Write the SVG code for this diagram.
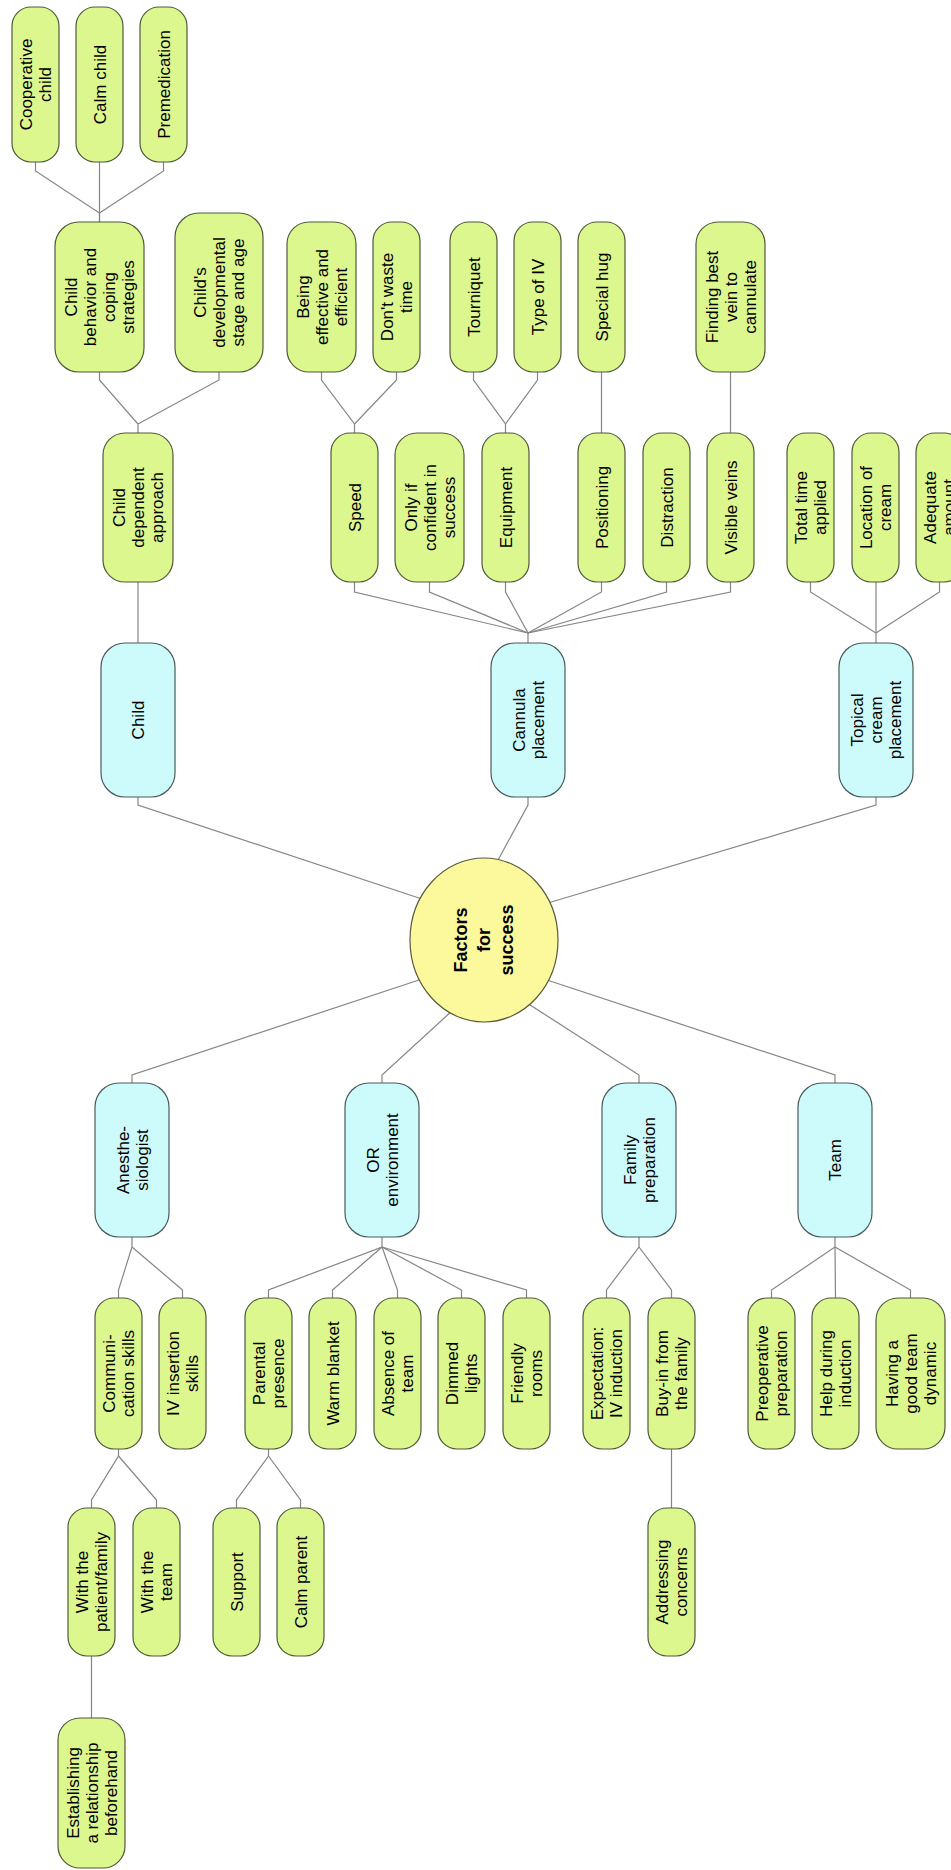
<svg xmlns="http://www.w3.org/2000/svg" width="951" height="1870" viewBox="0 0 951 1870">
<style>
.g{fill:#ddf78f;stroke:#4f5a3a;stroke-width:1.2}
.b{fill:#cdfbfb;stroke:#4a5a5a;stroke-width:1.2}
.c{fill:#fcf99c;stroke:#5a5a3a;stroke-width:1.2}
.t{font-family:"Liberation Sans",Arial,sans-serif;font-size:17px;fill:#000;text-anchor:middle}
.tb{font-family:"Liberation Sans",Arial,sans-serif;font-size:18px;font-weight:bold;fill:#000;text-anchor:middle}
#connectors polyline{fill:none;stroke:#858585;stroke-width:1.2}
</style>
<rect width="951" height="1870" fill="#fff"/>
<g id="connectors">
<polyline points="35.5,162 35.5,171 99.5,213 99.5,222"/>
<polyline points="99.5,162 99.5,222"/>
<polyline points="163.5,162 163.5,171 99.5,213"/>
<polyline points="99.5,372 99.5,380 138,424 138,433"/>
<polyline points="219,372 219,380 138,424"/>
<polyline points="321.5,372 321.5,380 354.5,424 354.5,433"/>
<polyline points="396.5,372 396.5,380 354.5,424"/>
<polyline points="473.5,372 473.5,380 505.5,424 505.5,433"/>
<polyline points="537.5,372 537.5,380 505.5,424"/>
<polyline points="601.5,372 601.5,433"/>
<polyline points="730.5,372 730.5,433"/>
<polyline points="138,582 138,643"/>
<polyline points="354.5,582 354.5,592 528,633 528,643"/>
<polyline points="429.5,582 429.5,592 528,633"/>
<polyline points="505.5,582 505.5,592 528,633"/>
<polyline points="601.5,582 601.5,592 528,633"/>
<polyline points="666.5,582 666.5,592 528,633"/>
<polyline points="730.5,582 730.5,592 528,633"/>
<polyline points="810.5,582 810.5,592 876,633 876,643"/>
<polyline points="876,582 876,633"/>
<polyline points="939.5,582 939.5,592 876,633"/>
<polyline points="138,797 138,805 422,899"/>
<polyline points="528,797 528,805 497,862"/>
<polyline points="876,797 876,805 548,903"/>
<polyline points="422,979 132,1075 132,1083"/>
<polyline points="453,1010 382,1075 382,1083"/>
<polyline points="527,1003 639,1075 639,1083"/>
<polyline points="547,980 835,1075 835,1083"/>
<polyline points="132,1237 132,1247 118.5,1290 118.5,1298"/>
<polyline points="132,1247 182.5,1290 182.5,1298"/>
<polyline points="382,1237 382,1247 268.5,1290 268.5,1298"/>
<polyline points="382,1247 332.5,1290 332.5,1298"/>
<polyline points="382,1247 397.5,1290 397.5,1298"/>
<polyline points="382,1247 461.5,1290 461.5,1298"/>
<polyline points="382,1247 526.5,1290 526.5,1298"/>
<polyline points="639,1237 639,1247 606.5,1290 606.5,1298"/>
<polyline points="639,1247 671.5,1290 671.5,1298"/>
<polyline points="835,1237 835,1247 771.5,1290 771.5,1298"/>
<polyline points="835,1247 835.5,1298"/>
<polyline points="835,1247 910.5,1290 910.5,1298"/>
<polyline points="118.5,1449 118.5,1456 91.5,1500 91.5,1508"/>
<polyline points="118.5,1456 156.5,1500 156.5,1508"/>
<polyline points="268.5,1449 268.5,1456 236.5,1500 236.5,1508"/>
<polyline points="268.5,1456 300.5,1500 300.5,1508"/>
<polyline points="671.5,1449 671.5,1508"/>
<polyline points="91.5,1656 91.5,1718"/>
</g>

<g id="n-coop"><rect class="g" x="12" y="7" width="47" height="155" rx="19"/><text class="t" transform="translate(35.5 84.5) rotate(-90)"><tspan x="0" y="-3.5">Cooperative</tspan><tspan x="0" y="15.5">child</tspan></text></g>
<g id="n-calm"><rect class="g" x="76" y="7" width="47" height="155" rx="19"/><text class="t" transform="translate(99.5 84.5) rotate(-90)"><tspan x="0" y="6">Calm child</tspan></text></g>
<g id="n-premed"><rect class="g" x="140" y="7" width="47" height="155" rx="19"/><text class="t" transform="translate(163.5 84.5) rotate(-90)"><tspan x="0" y="6">Premedication</tspan></text></g>

<g id="n-cbcs"><rect class="g" x="55" y="222" width="89" height="150" rx="24"/><text class="t" transform="translate(99.5 297) rotate(-90)"><tspan x="0" y="-22.5">Child</tspan><tspan x="0" y="-3.5">behavior and</tspan><tspan x="0" y="15.5">coping</tspan><tspan x="0" y="34.5">strategies</tspan></text></g>
<g id="n-cdsa"><rect class="g" x="175" y="213" width="88" height="159" rx="24"/><text class="t" transform="translate(219 292.5) rotate(-90)"><tspan x="0" y="-13">Child's</tspan><tspan x="0" y="6">developmental</tspan><tspan x="0" y="25">stage and age</tspan></text></g>
<g id="n-effective"><rect class="g" x="287" y="222" width="69" height="150" rx="22"/><text class="t" transform="translate(321.5 297) rotate(-90)"><tspan x="0" y="-13">Being</tspan><tspan x="0" y="6">effective and</tspan><tspan x="0" y="25">efficient</tspan></text></g>
<g id="n-dontwaste"><rect class="g" x="373" y="222" width="47" height="150" rx="19"/><text class="t" transform="translate(396.5 297) rotate(-90)"><tspan x="0" y="-3.5">Don't waste</tspan><tspan x="0" y="15.5">time</tspan></text></g>
<g id="n-tourniquet"><rect class="g" x="450" y="222" width="47" height="150" rx="19"/><text class="t" transform="translate(473.5 297) rotate(-90)"><tspan x="0" y="6">Tourniquet</tspan></text></g>
<g id="n-typeiv"><rect class="g" x="514" y="222" width="47" height="150" rx="19"/><text class="t" transform="translate(537.5 297) rotate(-90)"><tspan x="0" y="6">Type of IV</tspan></text></g>
<g id="n-hug"><rect class="g" x="578" y="222" width="47" height="150" rx="19"/><text class="t" transform="translate(601.5 297) rotate(-90)"><tspan x="0" y="6">Special hug</tspan></text></g>
<g id="n-findvein"><rect class="g" x="696" y="222" width="69" height="150" rx="22"/><text class="t" transform="translate(730.5 297) rotate(-90)"><tspan x="0" y="-13">Finding best</tspan><tspan x="0" y="6">vein to</tspan><tspan x="0" y="25">cannulate</tspan></text></g>

<g id="n-cda"><rect class="g" x="103" y="433" width="70" height="149" rx="22"/><text class="t" transform="translate(138 507.5) rotate(-90)"><tspan x="0" y="-13">Child</tspan><tspan x="0" y="6">dependent</tspan><tspan x="0" y="25">approach</tspan></text></g>
<g id="n-speed"><rect class="g" x="331" y="433" width="47" height="149" rx="19"/><text class="t" transform="translate(354.5 507.5) rotate(-90)"><tspan x="0" y="6">Speed</tspan></text></g>
<g id="n-onlyif"><rect class="g" x="395" y="433" width="69" height="149" rx="22"/><text class="t" transform="translate(429.5 507.5) rotate(-90)"><tspan x="0" y="-13">Only if</tspan><tspan x="0" y="6">confident in</tspan><tspan x="0" y="25">success</tspan></text></g>
<g id="n-equip"><rect class="g" x="482" y="433" width="47" height="149" rx="19"/><text class="t" transform="translate(505.5 507.5) rotate(-90)"><tspan x="0" y="6">Equipment</tspan></text></g>
<g id="n-positioning"><rect class="g" x="578" y="433" width="47" height="149" rx="19"/><text class="t" transform="translate(601.5 507.5) rotate(-90)"><tspan x="0" y="6">Positioning</tspan></text></g>
<g id="n-distraction"><rect class="g" x="643" y="433" width="47" height="149" rx="19"/><text class="t" transform="translate(666.5 507.5) rotate(-90)"><tspan x="0" y="6">Distraction</tspan></text></g>
<g id="n-visible"><rect class="g" x="707" y="433" width="47" height="149" rx="19"/><text class="t" transform="translate(730.5 507.5) rotate(-90)"><tspan x="0" y="6">Visible veins</tspan></text></g>
<g id="n-totaltime"><rect class="g" x="787" y="433" width="47" height="149" rx="19"/><text class="t" transform="translate(810.5 507.5) rotate(-90)"><tspan x="0" y="-3.5">Total time</tspan><tspan x="0" y="15.5">applied</tspan></text></g>
<g id="n-location"><rect class="g" x="852" y="433" width="47" height="149" rx="19"/><text class="t" transform="translate(875.5 507.5) rotate(-90)"><tspan x="0" y="-3.5">Location of</tspan><tspan x="0" y="15.5">cream</tspan></text></g>
<g id="n-adequate"><rect class="g" x="916" y="433" width="47" height="149" rx="19"/><text class="t" transform="translate(939.5 507.5) rotate(-90)"><tspan x="0" y="-3.5">Adequate</tspan><tspan x="0" y="15.5">amount</tspan></text></g>

<g id="n-child"><rect class="b" x="101" y="643" width="74" height="154" rx="24"/><text class="t" transform="translate(138 720) rotate(-90)"><tspan x="0" y="6">Child</tspan></text></g>
<g id="n-cannula"><rect class="b" x="491" y="643" width="74" height="154" rx="24"/><text class="t" transform="translate(528 720) rotate(-90)"><tspan x="0" y="-3.5">Cannula</tspan><tspan x="0" y="15.5">placement</tspan></text></g>
<g id="n-topical"><rect class="b" x="839" y="643" width="74" height="154" rx="24"/><text class="t" transform="translate(876 720) rotate(-90)"><tspan x="0" y="-13">Topical</tspan><tspan x="0" y="6">cream</tspan><tspan x="0" y="25">placement</tspan></text></g>

<g id="n-center"><ellipse class="c" cx="484" cy="940" rx="74" ry="82"/><text class="tb" transform="translate(484 940) rotate(-90)"><tspan x="0" y="-16.7">Factors</tspan><tspan x="0" y="6.3">for</tspan><tspan x="0" y="29.3">success</tspan></text></g>

<g id="n-anes"><rect class="b" x="95" y="1083" width="74" height="154" rx="24"/><text class="t" transform="translate(132 1160) rotate(-90)"><tspan x="0" y="-3.5">Anesthe-</tspan><tspan x="0" y="15.5">siologist</tspan></text></g>
<g id="n-or"><rect class="b" x="345" y="1083" width="74" height="154" rx="24"/><text class="t" transform="translate(382 1160) rotate(-90)"><tspan x="0" y="-3.5">OR</tspan><tspan x="0" y="15.5">environment</tspan></text></g>
<g id="n-family"><rect class="b" x="602" y="1083" width="74" height="154" rx="24"/><text class="t" transform="translate(639 1160) rotate(-90)"><tspan x="0" y="-3.5">Family</tspan><tspan x="0" y="15.5">preparation</tspan></text></g>
<g id="n-team"><rect class="b" x="798" y="1083" width="74" height="154" rx="24"/><text class="t" transform="translate(835 1160) rotate(-90)"><tspan x="0" y="6">Team</tspan></text></g>

<g id="n-comm"><rect class="g" x="95" y="1298" width="47" height="151" rx="19"/><text class="t" transform="translate(118.5 1373.5) rotate(-90)"><tspan x="0" y="-3.5">Communi-</tspan><tspan x="0" y="15.5">cation skills</tspan></text></g>
<g id="n-ivins"><rect class="g" x="159" y="1298" width="47" height="151" rx="19"/><text class="t" transform="translate(182.5 1373.5) rotate(-90)"><tspan x="0" y="-3.5">IV insertion</tspan><tspan x="0" y="15.5">skills</tspan></text></g>
<g id="n-parental"><rect class="g" x="245" y="1298" width="47" height="151" rx="19"/><text class="t" transform="translate(268.5 1373.5) rotate(-90)"><tspan x="0" y="-3.5">Parental</tspan><tspan x="0" y="15.5">presence</tspan></text></g>
<g id="n-warm"><rect class="g" x="309" y="1298" width="47" height="151" rx="19"/><text class="t" transform="translate(332.5 1373.5) rotate(-90)"><tspan x="0" y="6">Warm blanket</tspan></text></g>
<g id="n-absence"><rect class="g" x="374" y="1298" width="47" height="151" rx="19"/><text class="t" transform="translate(397.5 1373.5) rotate(-90)"><tspan x="0" y="-3.5">Absence of</tspan><tspan x="0" y="15.5">team</tspan></text></g>
<g id="n-dimmed"><rect class="g" x="438" y="1298" width="47" height="151" rx="19"/><text class="t" transform="translate(461.5 1373.5) rotate(-90)"><tspan x="0" y="-3.5">Dimmed</tspan><tspan x="0" y="15.5">lights</tspan></text></g>
<g id="n-friendly"><rect class="g" x="503" y="1298" width="47" height="151" rx="19"/><text class="t" transform="translate(526.5 1373.5) rotate(-90)"><tspan x="0" y="-3.5">Friendly</tspan><tspan x="0" y="15.5">rooms</tspan></text></g>
<g id="n-expect"><rect class="g" x="583" y="1298" width="47" height="151" rx="19"/><text class="t" transform="translate(606.5 1373.5) rotate(-90)"><tspan x="0" y="-3.5">Expectation:</tspan><tspan x="0" y="15.5">IV induction</tspan></text></g>
<g id="n-buyin"><rect class="g" x="648" y="1298" width="47" height="151" rx="19"/><text class="t" transform="translate(671.5 1373.5) rotate(-90)"><tspan x="0" y="-3.5">Buy-in from</tspan><tspan x="0" y="15.5">the family</tspan></text></g>
<g id="n-preop"><rect class="g" x="748" y="1298" width="47" height="151" rx="19"/><text class="t" transform="translate(771.5 1373.5) rotate(-90)"><tspan x="0" y="-3.5">Preoperative</tspan><tspan x="0" y="15.5">preparation</tspan></text></g>
<g id="n-help"><rect class="g" x="812" y="1298" width="47" height="151" rx="19"/><text class="t" transform="translate(835.5 1373.5) rotate(-90)"><tspan x="0" y="-3.5">Help during</tspan><tspan x="0" y="15.5">induction</tspan></text></g>
<g id="n-having"><rect class="g" x="876" y="1298" width="69" height="151" rx="22"/><text class="t" transform="translate(910.5 1373.5) rotate(-90)"><tspan x="0" y="-13">Having a</tspan><tspan x="0" y="6">good team</tspan><tspan x="0" y="25">dynamic</tspan></text></g>

<g id="n-withpat"><rect class="g" x="68" y="1508" width="47" height="148" rx="19"/><text class="t" transform="translate(91.5 1582) rotate(-90)"><tspan x="0" y="-3.5">With the</tspan><tspan x="0" y="15.5">patient/family</tspan></text></g>
<g id="n-withteam"><rect class="g" x="133" y="1508" width="47" height="148" rx="19"/><text class="t" transform="translate(156.5 1582) rotate(-90)"><tspan x="0" y="-3.5">With the</tspan><tspan x="0" y="15.5">team</tspan></text></g>
<g id="n-support"><rect class="g" x="213" y="1508" width="47" height="148" rx="19"/><text class="t" transform="translate(236.5 1582) rotate(-90)"><tspan x="0" y="6">Support</tspan></text></g>
<g id="n-calmparent"><rect class="g" x="277" y="1508" width="47" height="148" rx="19"/><text class="t" transform="translate(300.5 1582) rotate(-90)"><tspan x="0" y="6">Calm parent</tspan></text></g>
<g id="n-addressing"><rect class="g" x="648" y="1508" width="47" height="148" rx="19"/><text class="t" transform="translate(671.5 1582) rotate(-90)"><tspan x="0" y="-3.5">Addressing</tspan><tspan x="0" y="15.5">concerns</tspan></text></g>

<g id="n-establish"><rect class="g" x="58" y="1718" width="67" height="150" rx="22"/><text class="t" transform="translate(91.5 1793) rotate(-90)"><tspan x="0" y="-13">Establishing</tspan><tspan x="0" y="6">a relationship</tspan><tspan x="0" y="25">beforehand</tspan></text></g>
</svg>
